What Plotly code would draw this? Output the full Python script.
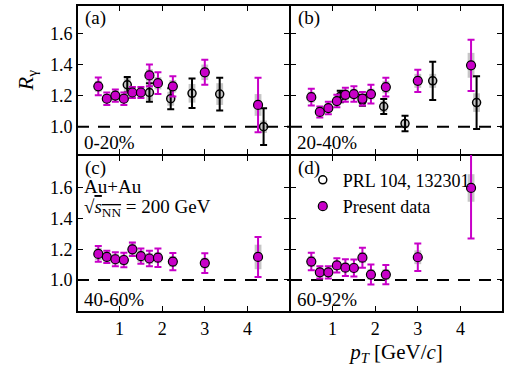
import plotly.graph_objects as go
from plotly.subplots import make_subplots

# ---------------- data ----------------
pt_new = [0.5, 0.7, 0.9, 1.1, 1.3, 1.5, 1.7, 1.9, 2.25, 3.0, 4.25]
pt_old = [1.18, 1.7, 2.2, 2.7, 3.35, 4.38]

a_new = [1.26, 1.18, 1.20, 1.18, 1.22, 1.22, 1.33, 1.28, 1.26, 1.35, 1.14]
a_new_err = [0.057, 0.04, 0.04, 0.04, 0.035, 0.035, 0.07, 0.07, 0.065, 0.08, 0.175]
a_new_sys = [0.035, 0.03, 0.03, 0.03, 0.03, 0.03, 0.04, 0.04, 0.04, 0.05, 0.07]
a_old = [1.27, 1.22, 1.18, 1.215, 1.21, 1.0]
a_old_err = [0.05, 0.06, 0.068, 0.095, 0.105, 0.118]
a_old_sys = [0.05, 0.05, 0.045, 0.06, 0.07, 0.04]

b_new = [1.19, 1.095, 1.12, 1.165, 1.205, 1.21, 1.18, 1.21, 1.255, 1.295, 1.395]
b_new_err = [0.054, 0.035, 0.04, 0.04, 0.045, 0.05, 0.043, 0.06, 0.06, 0.072, 0.165]
b_new_sys = [0.035, 0.03, 0.03, 0.03, 0.035, 0.035, 0.03, 0.035, 0.04, 0.045, 0.08]
b_old = [1.195, 1.17, 1.13, 1.02, 1.295, 1.155]
b_old_err = [0.037, 0.035, 0.048, 0.05, 0.123, 0.17]
b_old_sys = [0.04, 0.03, 0.035, 0.03, 0.045, 0.06]

c_new = [1.17, 1.15, 1.135, 1.13, 1.20, 1.155, 1.14, 1.145, 1.12, 1.11, 1.15]
c_new_err = [0.052, 0.04, 0.045, 0.047, 0.044, 0.05, 0.05, 0.06, 0.056, 0.065, 0.13]
c_new_sys = [0.04, 0.035, 0.035, 0.035, 0.04, 0.04, 0.035, 0.035, 0.035, 0.035, 0.08]

d_new = [1.12, 1.05, 1.05, 1.095, 1.08, 1.078, 1.145, 1.035, 1.035, 1.148, 1.60]
d_new_err = [0.057, 0.04, 0.04, 0.047, 0.055, 0.055, 0.065, 0.065, 0.063, 0.09, 0.33]
d_new_sys = [0.035, 0.03, 0.03, 0.03, 0.03, 0.03, 0.035, 0.035, 0.035, 0.045, 0.09]

panel_tags = ["(a)", "(b)", "(c)", "(d)"]
centralities = ["0-20%", "20-40%", "40-60%", "60-92%"]
x_ticks = [1, 2, 3, 4]
y_ticks = [1.0, 1.2, 1.4, 1.6]
legend_names = ["PRL 104, 132301", "Present data"]

# ---------------- style ----------------
MAG = "#c800c8"
GREY = "rgba(160,160,160,0.6)"
FONT = "Liberation Serif"
BOX_W = 0.16

fig = make_subplots(rows=2, cols=2, horizontal_spacing=0, vertical_spacing=0)

panels = [
    (1, 1, a_new, a_new_err, a_new_sys, a_old, a_old_err, a_old_sys),
    (1, 2, b_new, b_new_err, b_new_sys, b_old, b_old_err, b_old_sys),
    (2, 1, c_new, c_new_err, c_new_sys, None, None, None),
    (2, 2, d_new, d_new_err, d_new_sys, None, None, None),
]

for i, (r, c, yn, en, sn, yo, eo, so) in enumerate(panels):
    # systematic boxes
    fig.add_trace(go.Bar(x=pt_new, y=[2 * s for s in sn], base=[v - s for v, s in zip(yn, sn)],
                         width=BOX_W, marker=dict(color=GREY, line=dict(width=0)),
                         showlegend=False, hoverinfo="skip"), row=r, col=c)
    if yo is not None:
        fig.add_trace(go.Bar(x=pt_old, y=[2 * s for s in so], base=[v - s for v, s in zip(yo, so)],
                             width=BOX_W, marker=dict(color=GREY, line=dict(width=0)),
                             showlegend=False, hoverinfo="skip"), row=r, col=c)
        fig.add_trace(go.Scatter(x=pt_old, y=yo, mode="markers", name=legend_names[0],
                                 legendrank=1, showlegend=(i == 0),
                                 marker=dict(symbol="circle-open", size=8, color="black",
                                             line=dict(width=1.5, color="black")),
                                 error_y=dict(type="data", array=eo, color="black",
                                              thickness=2, width=3.5)),
                      row=r, col=c)
    fig.add_trace(go.Scatter(x=pt_new, y=yn, mode="markers", name=legend_names[1],
                             legendrank=2, showlegend=(i == 0),
                             marker=dict(symbol="circle", size=9, color=MAG,
                                         line=dict(width=1.2, color="black")),
                             error_y=dict(type="data", array=en, color=MAG,
                                          thickness=2, width=3.5)),
                  row=r, col=c)

top_dom = [(312 - 155) / 307, 1.0]
bot_dom = [0.0, (312 - 155) / 307]
axis_common = dict(showline=True, linewidth=1, linecolor="black", mirror="ticks",
                   ticks="inside", ticklen=6, tickwidth=1.2, tickcolor="black",
                   showgrid=False, zeroline=False,
                   tickfont=dict(family=FONT, size=18, color="black"))

for i, (r, c) in enumerate([(1, 1), (1, 2), (2, 1), (2, 2)]):
    fig.update_xaxes(range=[0, 5], tickvals=x_ticks, ticktext=[str(t) for t in x_ticks],
                     showticklabels=(r == 2), row=r, col=c, **axis_common)
    yr = [0.818, 1.783] if r == 1 else [0.791, 1.815]
    fig.update_yaxes(range=yr, tickvals=y_ticks, ticktext=[f"{t:.1f}" for t in y_ticks],
                     showticklabels=(c == 1), domain=top_dom if r == 1 else bot_dom,
                     row=r, col=c, **axis_common)

fig.update_yaxes(title=dict(text="<i>R</i><sub>γ</sub>", font=dict(family=FONT, size=22, color="black"),
                            standoff=10), row=1, col=1)
fig.update_xaxes(title=dict(text="<i>p</i><sub><i>T</i></sub> [GeV/<i>c</i>]",
                            font=dict(family=FONT, size=21, color="black"), standoff=6),
                 row=2, col=2)

# outer frame
fig.add_shape(type="rect", xref="paper", yref="paper", x0=0, x1=1, y0=0, y1=1,
              line=dict(color="black", width=2), layer="above")

axis_ids = ["", "2", "3", "4"]
for i, aid in enumerate(axis_ids):
    fig.add_shape(type="line", xref=f"x{aid} domain", yref=f"y{aid}", x0=0, x1=1, y0=1.0, y1=1.0,
                  line=dict(color="black", width=2, dash="12px,9px"), layer="below")
    fig.add_annotation(xref=f"x{aid} domain", yref=f"y{aid} domain", x=0.03, y=1.0,
                       xanchor="left", yanchor="top", text=panel_tags[i], showarrow=False,
                       font=dict(family=FONT, size=19, color="black"))
    fig.add_annotation(xref=f"x{aid} domain", yref=f"y{aid} domain", x=0.025, y=0.0,
                       xanchor="left", yanchor="bottom", text=centralities[i], showarrow=False,
                       font=dict(family=FONT, size=19, color="black"))

fig.add_annotation(xref="x3 domain", yref="y3 domain", x=0.025, y=0.80, xanchor="left", yanchor="middle",
                   text="Au+Au", showarrow=False, font=dict(family=FONT, size=19, color="black"))
fig.add_annotation(xref="x3 domain", yref="y3 domain", x=0.025, y=0.66, xanchor="left", yanchor="middle",
                   text="√<span style='text-decoration:overline'><i>s</i><sub>NN</sub></span> = 200 GeV",
                   showarrow=False, font=dict(family=FONT, size=19, color="black"))

fig.update_layout(
    width=510, height=375,
    margin=dict(l=77, r=7, t=5, b=63),
    paper_bgcolor="white", plot_bgcolor="white",
    font=dict(family=FONT, size=18, color="black"),
    barmode="overlay",
    showlegend=True,
    legend=dict(x=0.53, y=0.49, xanchor="left", yanchor="top", bgcolor="rgba(0,0,0,0)",
                font=dict(family=FONT, size=18, color="black"), itemwidth=30,
                tracegroupgap=0),
)

fig.write_html("out.html")
